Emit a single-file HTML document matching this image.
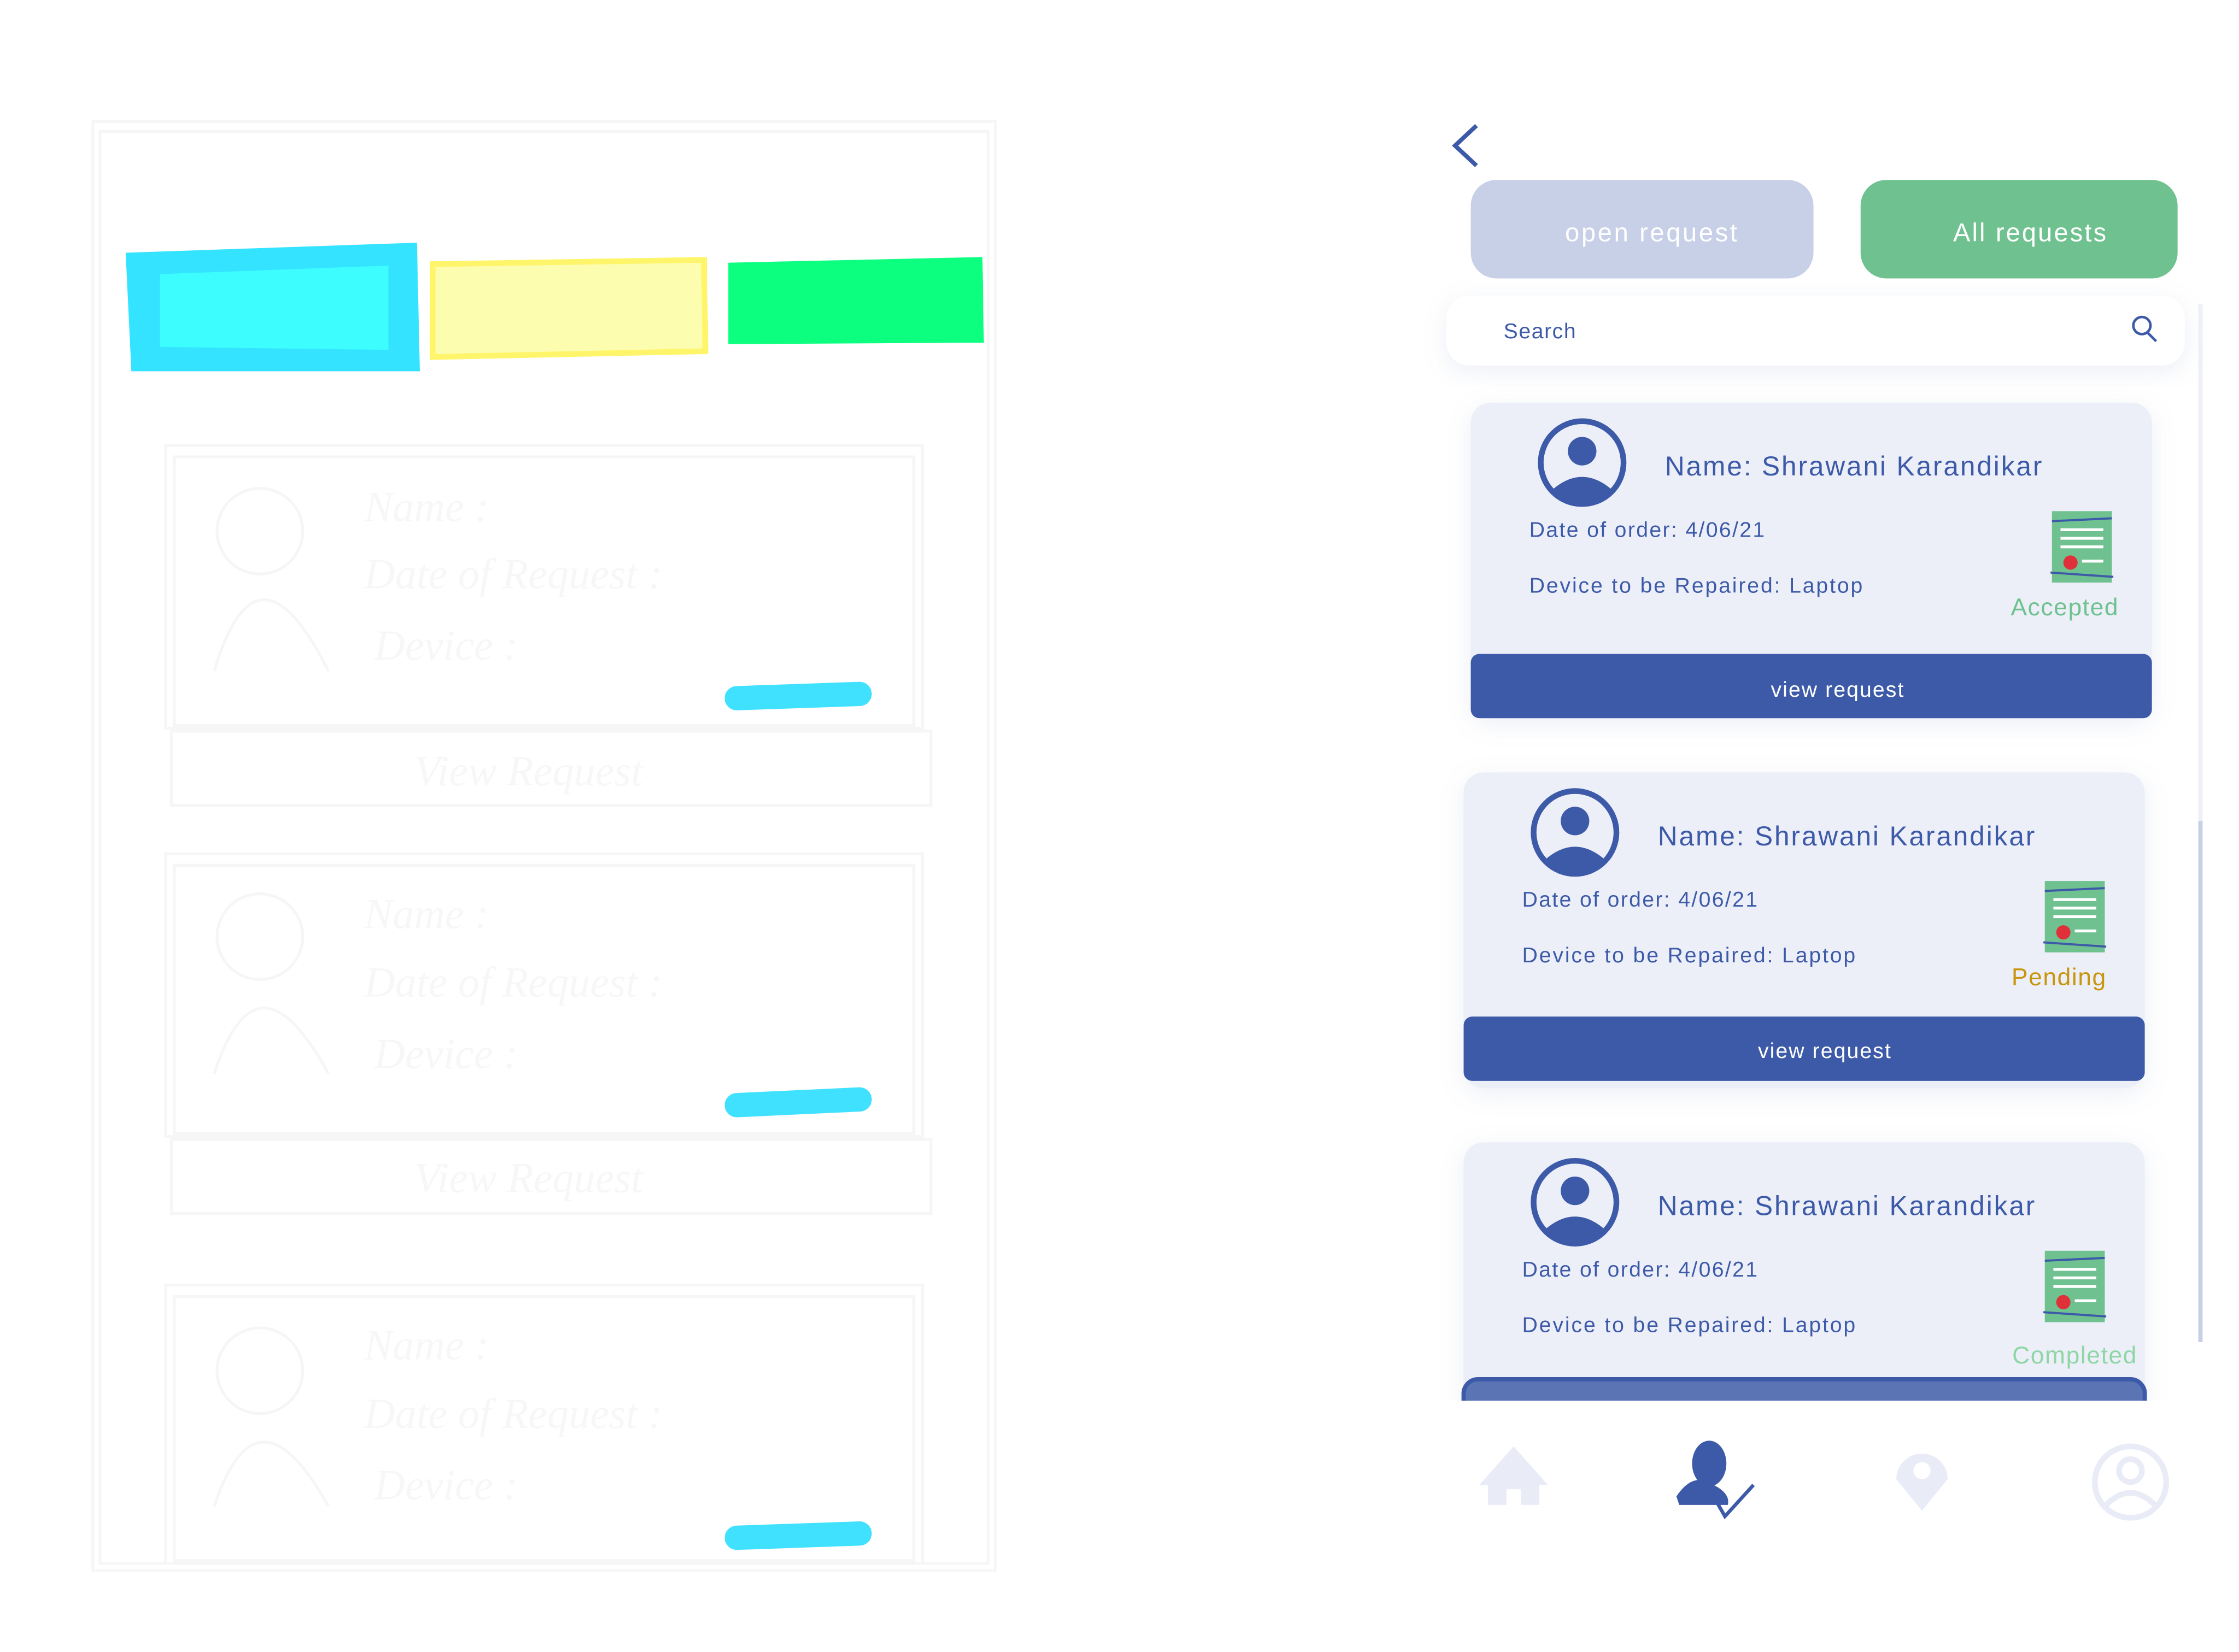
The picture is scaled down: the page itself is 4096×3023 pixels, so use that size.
<!DOCTYPE html>
<html><head><meta charset="utf-8"><style>html,body{margin:0;padding:0;background:#fff}svg{display:block}</style></head>
<body>
<svg width="4096" height="3023" viewBox="0 0 1568 1157" preserveAspectRatio="none" xmlns="http://www.w3.org/2000/svg" font-family="'Liberation Sans', sans-serif">
<defs>
<filter id="sh" x="-10%" y="-20%" width="120%" height="150%"><feDropShadow dx="0" dy="4" stdDeviation="8" flood-color="#8090c0" flood-opacity="0.15"/></filter>
<g id="card">
  <rect x="0" y="0" width="477" height="221" rx="14" fill="#eceff8" filter="url(#sh)"/>
  <circle cx="78" cy="42" r="29" fill="none" stroke="#3d5aa8" stroke-width="4"/>
  <circle cx="78" cy="34" r="10" fill="#3d5aa8"/>
  <path d="M56 62 Q78 42 100 62 Q90 70 78 70 Q66 70 56 62Z" fill="#3d5aa8"/>
  <text x="136" y="51" font-size="19" fill="#3d5aa8" letter-spacing="1.1">Name: Shrawani Karandikar</text>
  <text x="41" y="94" font-size="15" fill="#3d5aa8" letter-spacing="0.9">Date of order: 4/06/21</text>
  <text x="41" y="133" font-size="15" fill="#3d5aa8" letter-spacing="1.1">Device to be Repaired: Laptop</text>
  <rect x="407" y="76" width="42" height="50" fill="#6fc290"/>
  <line x1="407" y1="83" x2="449" y2="81" stroke="#3d5aa8" stroke-width="1.5"/>
  <line x1="406" y1="119" x2="450" y2="122" stroke="#3d5aa8" stroke-width="1.5"/>
  <rect x="413" y="88" width="30" height="2" fill="#fff"/>
  <rect x="413" y="94" width="30" height="2" fill="#fff"/>
  <rect x="413" y="100" width="30" height="2" fill="#fff"/>
  <rect x="428" y="110" width="15" height="2" fill="#fff"/>
  <circle cx="420" cy="112" r="5" fill="#e0303a"/>
</g>
</defs>

<!-- left sketch -->
<g fill="none" stroke="#f6f6f6" stroke-width="2">
  <rect x="65" y="85" width="632" height="1015"/>
  <rect x="70" y="92" width="622" height="1003"/>
  <rect x="116" y="312" width="530" height="198"/>
  <rect x="122" y="320" width="518" height="188"/>
  <rect x="120" y="512" width="532" height="52"/>
  <rect x="116" y="598" width="530" height="198"/>
  <rect x="122" y="606" width="518" height="188"/>
  <rect x="120" y="798" width="532" height="52"/>
  <rect x="116" y="900" width="530" height="195"/>
  <rect x="122" y="908" width="518" height="185"/>
  <circle cx="182" cy="372" r="30"/><path d="M150 470 Q180 370 230 470"/>
  <circle cx="182" cy="656" r="30"/><path d="M150 752 Q180 660 230 752"/>
  <circle cx="182" cy="960" r="30"/><path d="M150 1055 Q180 965 230 1055"/>
</g>
<g font-size="30" fill="#f7f7f7" font-family="'Liberation Serif', serif" font-style="italic">
  <text x="255" y="365">Name :</text><text x="255" y="412">Date of Request :</text><text x="262" y="462">Device :</text>
  <text x="290" y="550">View Request</text>
  <text x="255" y="650">Name :</text><text x="255" y="698">Date of Request :</text><text x="262" y="748">Device :</text>
  <text x="290" y="835">View Request</text>
  <text x="255" y="952">Name :</text><text x="255" y="1000">Date of Request :</text><text x="262" y="1050">Device :</text>
</g>
<polygon points="88,177 292,170 294,260 92,260" fill="#33e3ff"/>
<polygon points="112,192 272,186 272,245 112,243" fill="#3dfdff"/>
<polygon points="303,185 493,182 494,246 303,250" fill="#fdfdb0" stroke="#fff56a" stroke-width="4"/>
<polygon points="510,184 688,180 689,240 510,241" fill="#0dff80"/>
<g stroke="#40e0ff" stroke-width="17" stroke-linecap="round">
  <line x1="516" y1="489" x2="602" y2="486"/>
  <line x1="516" y1="774" x2="602" y2="770"/>
  <line x1="516" y1="1077" x2="602" y2="1074"/>
</g>

<!-- right app -->
<path d="M1034 88 L1019 102 L1034 116" fill="none" stroke="#3d5aa8" stroke-width="3"/>
<rect x="1030" y="126" width="240" height="69" rx="18" fill="#c8d0e8"/>
<text x="1157" y="169" font-size="18" fill="#fff" text-anchor="middle" letter-spacing="1.4">open request</text>
<rect x="1303" y="126" width="222" height="69" rx="18" fill="#6fc290"/>
<text x="1422" y="169" font-size="18" fill="#fff" text-anchor="middle" letter-spacing="1.2">All requests</text>
<rect x="1013" y="207" width="517" height="49" rx="16" fill="#fff" filter="url(#sh)"/>
<text x="1053" y="237" font-size="15" fill="#3d5aa8" letter-spacing="0.6">Search</text>
<circle cx="1500" cy="228" r="6" fill="none" stroke="#3d5aa8" stroke-width="1.8"/>
<line x1="1504" y1="233" x2="1510" y2="239" stroke="#3d5aa8" stroke-width="1.8"/>
<line x1="1541" y1="213" x2="1541" y2="940" stroke="#eef0f7" stroke-width="3"/>
<line x1="1541" y1="575" x2="1541" y2="940" stroke="#c8d0e8" stroke-width="3"/>

<use href="#card" x="1030" y="282"/>
<text x="1446" y="431" font-size="17" fill="#6fc290" text-anchor="middle" letter-spacing="0.6">Accepted</text>
<rect x="1030" y="458" width="477" height="45" rx="6" fill="#3d5aa8"/>
<text x="1287" y="488" font-size="15" fill="#fff" text-anchor="middle" letter-spacing="0.8">view request</text>

<use href="#card" x="1025" y="541"/>
<text x="1442" y="690" font-size="17" fill="#c8960c" text-anchor="middle" letter-spacing="0.6">Pending</text>
<rect x="1025" y="712" width="477" height="45" rx="6" fill="#3d5aa8"/>
<text x="1278" y="741" font-size="15" fill="#fff" text-anchor="middle" letter-spacing="0.8">view request</text>

<use href="#card" x="1025" y="800"/>
<text x="1453" y="955" font-size="17" fill="#8fd6a6" text-anchor="middle" letter-spacing="0.6">Completed</text>
<rect x="1025" y="966" width="477" height="30" rx="10" fill="#5b74b4" stroke="#3d5aa8" stroke-width="3"/>
<rect x="1000" y="981" width="568" height="176" fill="#fff"/>

<!-- nav -->
<path d="M1060 1013 L1036 1040 L1042 1040 L1042 1054 L1055 1054 L1055 1043 L1065 1043 L1065 1054 L1078 1054 L1078 1040 L1084 1040Z" fill="#e9ecf6"/>
<ellipse cx="1197" cy="1025" rx="12" ry="16" fill="#3d5aa8"/>
<path d="M1174 1048 Q1186 1030 1200 1040 Q1212 1046 1210 1054 L1176 1054Z" fill="#3d5aa8"/>
<path d="M1200 1048 L1208 1062 L1228 1040" fill="none" stroke="#3d5aa8" stroke-width="2.5"/>
<path d="M1346 1058 L1328 1036 A18 18 0 1 1 1364 1036Z" fill="#e9ecf6"/>
<circle cx="1346" cy="1030" r="6" fill="#fff"/>
<circle cx="1492" cy="1038" r="25" fill="none" stroke="#e9ecf6" stroke-width="4"/>
<circle cx="1492" cy="1030" r="8" fill="none" stroke="#e9ecf6" stroke-width="4"/>
<path d="M1474 1055 Q1492 1036 1510 1055" fill="none" stroke="#e9ecf6" stroke-width="4"/>
</svg>
</body></html>
